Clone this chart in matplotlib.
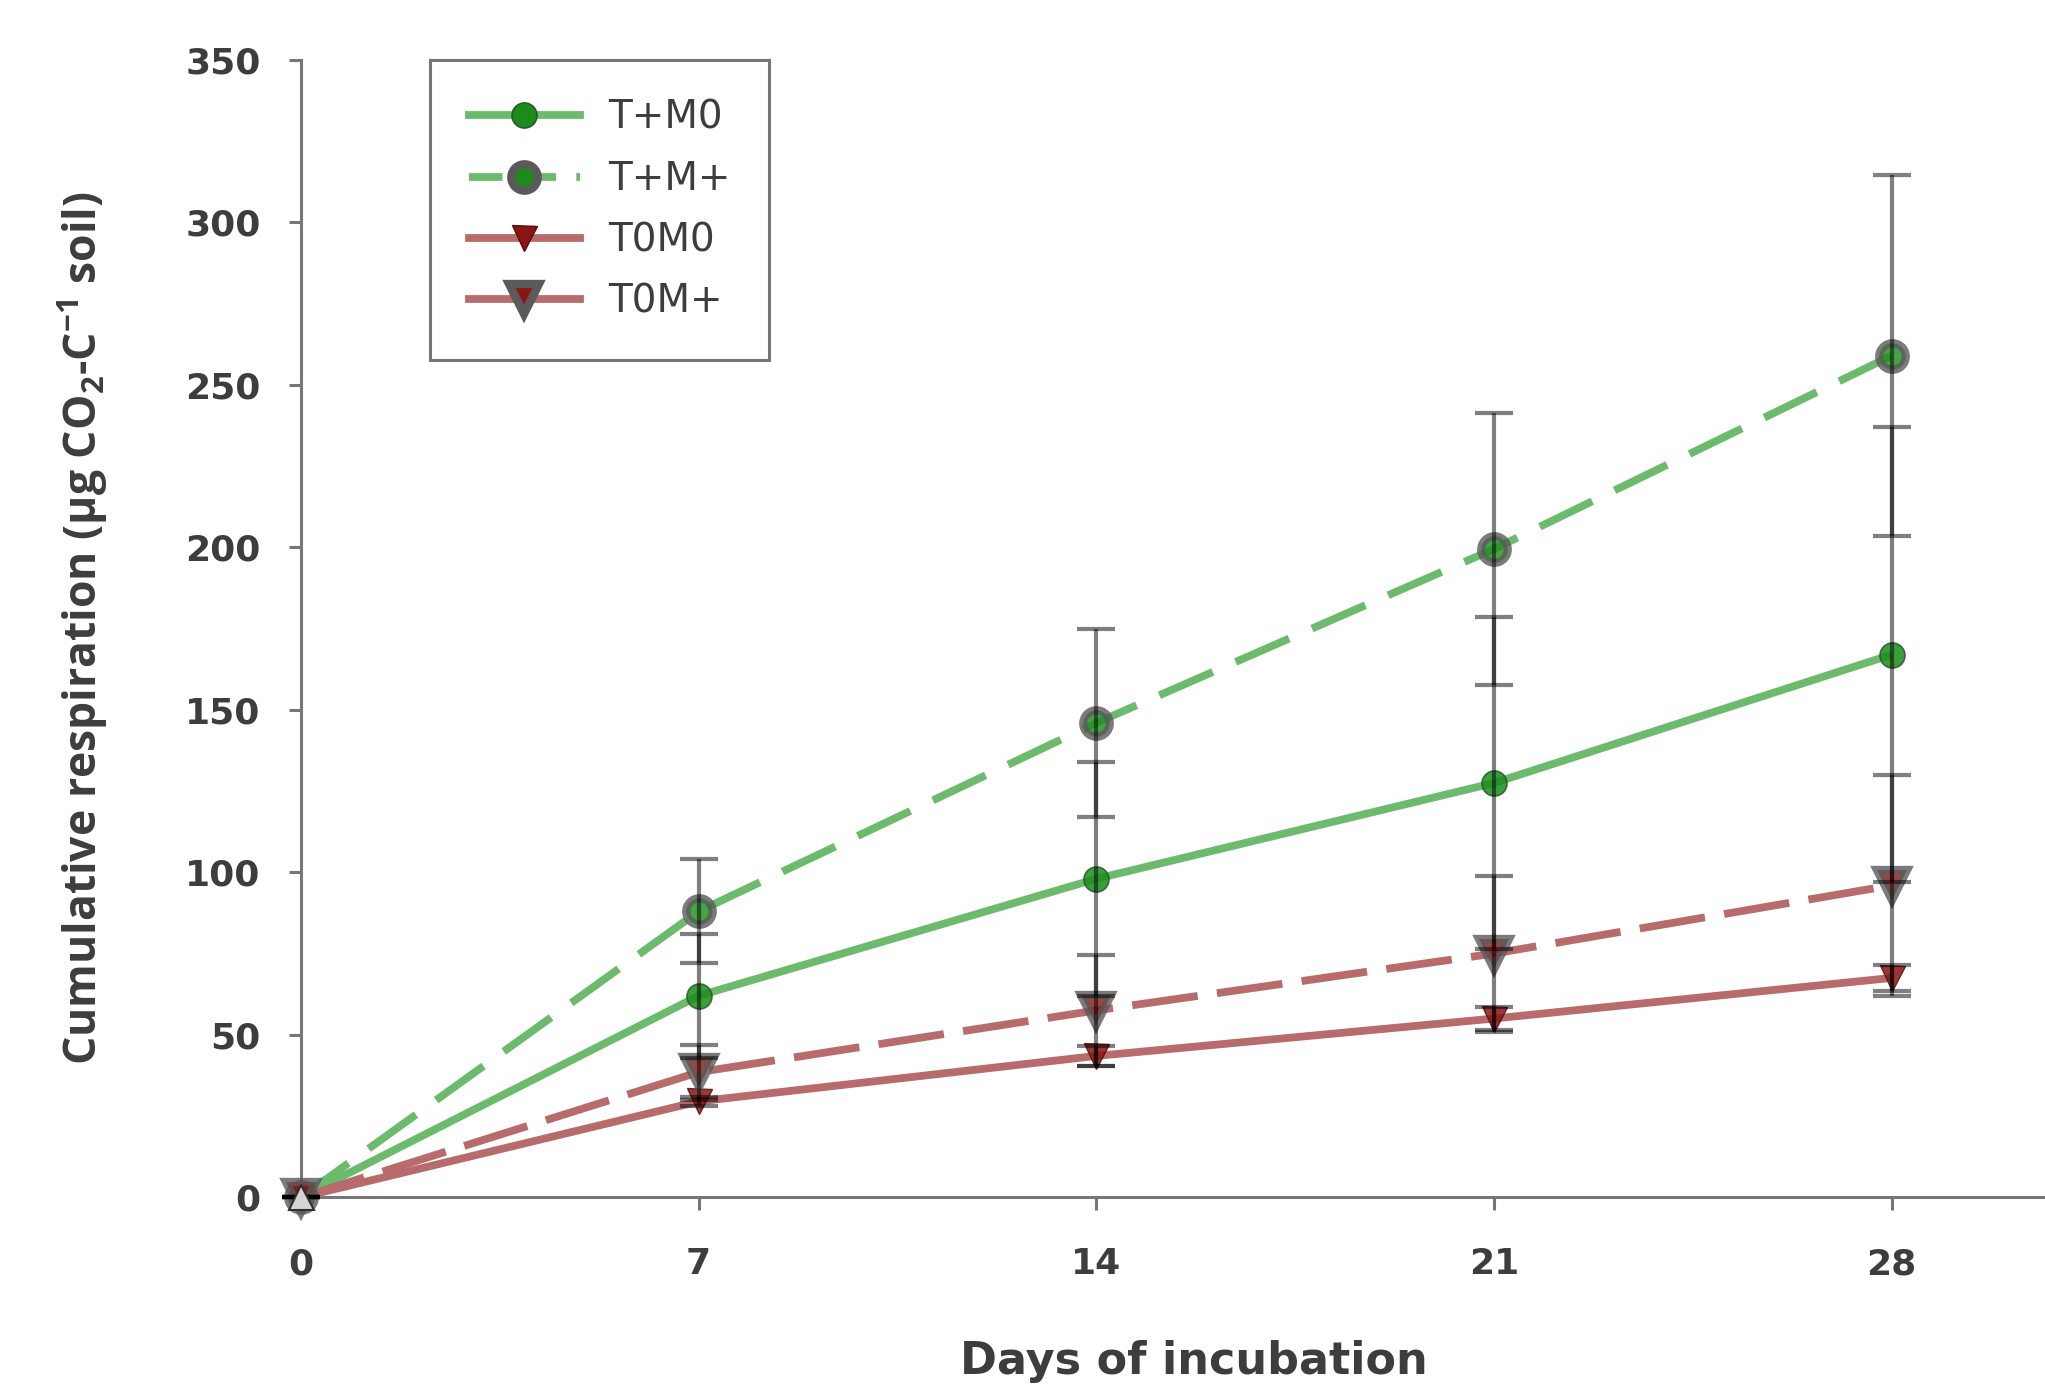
import matplotlib
matplotlib.use("Agg")
import matplotlib.pyplot as plt
from matplotlib.lines import Line2D

plt.rcParams['font.family'] = ['DejaVu Sans']
plt.rcParams['mathtext.fontset'] = 'custom'
plt.rcParams['mathtext.rm'] = 'Open Sans:bold'

days = [0, 7, 14, 21, 28]
tpm0 = [0, 62, 98, 127.5, 167]
tpm0_err = [0, 19, 36, 51, 70]
tpmp = [0, 88, 146, 199.5, 259]
tpmp_err = [0, 16, 29, 42, 55.5]
t0m0 = [0, 29.5, 43.5, 55, 67.5]
t0m0_err = [0, 1.5, 3, 3.5, 4]
t0mp = [0, 38.5, 57.5, 75, 96]
t0mp_err = [0, 8.5, 17, 24, 34]
labels = ['T+M0', 'T+M+', 'T0M0', 'T0M+']
xticks = [0, 7, 14, 21, 28]
yticks = [0, 50, 100, 150, 200, 250, 300, 350]

GREEN_L = '#6cbb6c'
RED_L = '#b86b6b'
GREEN_M = '#1a8c1a'
RED_M = '#8b1414'
GRAY_E = '#5a5a5a'
TXT = '#3d3d3d'

fig = plt.figure(figsize=(20.45, 13.92), dpi=100)
ax = fig.add_axes([0.1472, 0.1399, 0.8528, 0.8170])

lw = 5.6
dash_g = (0, (7.5, 3.2))
dash_r = (0, (8.5, 2.5))

# lines
ax.plot(days, tpm0, color=GREEN_L, lw=lw, solid_capstyle='butt', zorder=2, clip_on=False)
ax.plot(days, tpmp, color=GREEN_L, lw=lw, linestyle=dash_g, dash_capstyle='butt', zorder=2, clip_on=False)
ax.plot(days, t0m0, color=RED_L, lw=lw, solid_capstyle='butt', zorder=2, clip_on=False)
ax.plot(days, t0mp, color=RED_L, lw=lw, linestyle=dash_r, dash_capstyle='butt', zorder=2, clip_on=False)

# markers
mk_m0 = dict(marker='o', ms=18, mfc=GREEN_M, mec='#2a5a2a', mew=1.2)
mk_mp = dict(marker='o', ms=19, mfc=GREEN_M, mec=GRAY_E, mew=6)
mk_t0 = dict(marker='v', ms=18, mfc=RED_M, mec='#5a1010', mew=1.0)
mk_tp = dict(marker='v', ms=21, mfc=RED_M, mec=GRAY_E, mew=6)
ax.plot(days, tpm0, linestyle='none', alpha=0.85, zorder=3, clip_on=False, **mk_m0)
ax.plot(days, tpmp, linestyle='none', alpha=0.8, zorder=3, clip_on=False, **mk_mp)
ax.plot(days, t0m0, linestyle='none', alpha=0.85, zorder=3, clip_on=False, **mk_t0)
ax.plot(days, t0mp, linestyle='none', alpha=0.8, zorder=3, clip_on=False, **mk_tp)
ax.plot(days[:1], t0mp[:1], '^', ms=18, mfc='#d4d4d4', mec='#303030', mew=1.5, zorder=6, clip_on=False)

# error bars
for vals, errs in [(tpm0, tpm0_err), (tpmp, tpmp_err), (t0m0, t0m0_err), (t0mp, t0mp_err)]:
    ax.errorbar(days, vals, yerr=errs, fmt='none', ecolor='black', elinewidth=3.0,
                capsize=13.5, capthick=3.0, alpha=0.5, zorder=5, clip_on=False)

ax.set_xlim(0, 30.7)
ax.set_ylim(0, 350)
ax.set_xticks(xticks)
ax.set_yticks(yticks)

for s in ['top', 'right']:
    ax.spines[s].set_visible(False)
for s in ['left', 'bottom']:
    ax.spines[s].set_color('#777777')
    ax.spines[s].set_linewidth(2.2)

ax.tick_params(axis='both', direction='out', length=9, width=2.2, color='#777777',
               labelsize=26, labelcolor=TXT)
ax.tick_params(axis='y', pad=20)
ax.tick_params(axis='x', pad=27)
for lab in ax.get_xticklabels() + ax.get_yticklabels():
    lab.set_fontweight('bold')

ax.set_xlabel('Days of incubation', fontsize=32, fontweight='bold', color=TXT, labelpad=42)
ax.xaxis.label.set_x(0.512)
ax.set_ylabel('Cumulative respiration (μg CO$\\mathrm{_2}$-C$\\mathrm{^{-1}}$ soil)',
              fontsize=32, fontweight='bold', color=TXT, labelpad=54,
              family=['Open Sans', 'DejaVu Sans'])

handles = [
    Line2D([], [], color=GREEN_L, lw=lw, **mk_m0),
    Line2D([], [], color=GREEN_L, lw=lw, linestyle=(0, (4.3, 2.6)), dash_capstyle='butt', **mk_mp),
    Line2D([], [], color=RED_L, lw=lw, **mk_t0),
    Line2D([], [], color=RED_L, lw=lw, **mk_tp),
]
leg = ax.legend(handles, labels, loc='upper left', bbox_to_anchor=(0.2103, 0.9569),
                bbox_transform=fig.transFigure, fontsize=28, frameon=True, fancybox=False,
                framealpha=1, edgecolor='#777777', handlelength=2.85, handletextpad=0.72,
                labelspacing=0.6, borderpad=1.0, borderaxespad=0)
leg.get_frame().set_linewidth(2.2)
for t in leg.get_texts():
    t.set_color(TXT)

fig.savefig('out.png', dpi=100)
